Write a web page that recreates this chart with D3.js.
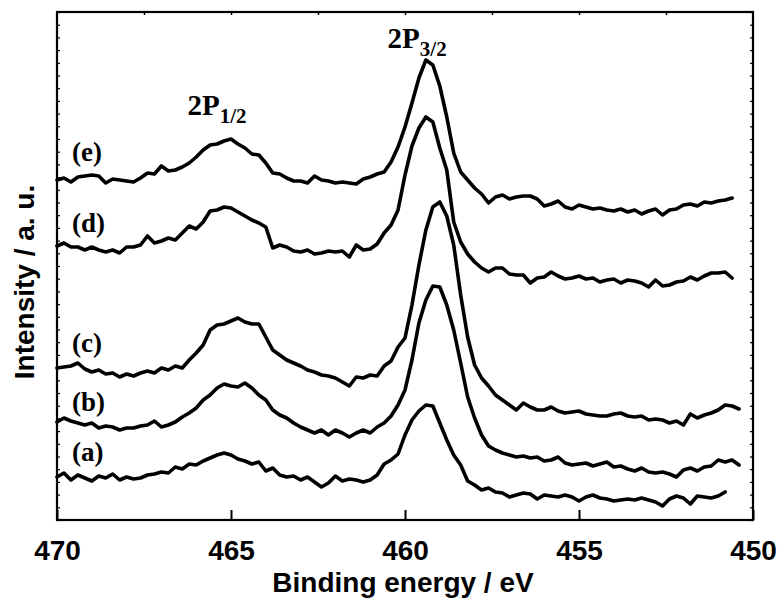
<!DOCTYPE html>
<html>
<head>
<meta charset="utf-8">
<script src="https://cdn.jsdelivr.net/npm/d3@7"></script>
<style>
  html, body { margin: 0; padding: 0; background: #fff; }
  svg { display: block; }
</style>
</head>
<body>
<svg id="chart" width="781" height="600"></svg>
<script>
// ---- Data (binding energy grid: 470 eV downward in 0.2 eV steps) ----
const energyStart = 470;
const energyStep = 0.2;

// Intensity (a.u., curves already vertically offset as in the figure)
const curveE = [340,342,338,343,344,345,344,337,341,340,
  339,338,342,347,346,354,349,350,353,357,
  363,370,375,376,379,381,376,372,366,365,
  357,347,346,342,339,339,337,344,340,339,
  337,338,337,336,341,343,346,348,358,373,
  393,417,442,460,455,434,403,367,348,340,
  332,326,317,323,325,321,323,324,324,321,
  314,316,319,313,311,315,313,311,312,310,
  309,311,308,310,306,309,311,305,310,311,
  315,316,314,318,317,319,320,322];
const curveD = [274,277,273,273,270,273,270,268,270,267,
  273,273,275,284,277,279,282,280,287,294,
  291,298,309,310,313,312,308,304,300,297,
  293,272,275,273,269,268,270,266,267,269,
  268,269,263,275,270,271,276,287,295,310,
  345,374,392,403,398,372,350,298,278,266,
  258,252,248,252,252,246,245,245,237,242,
  243,248,244,241,242,244,241,242,238,240,
  241,237,240,239,237,233,240,234,235,238,
  239,243,240,244,247,247,248,242];
const curveC = [152,153,154,157,151,148,150,146,147,143,
  146,144,147,149,147,152,150,154,152,160,
  167,175,190,195,196,199,202,198,196,196,
  183,170,165,160,157,154,150,148,145,144,
  142,138,134,143,142,145,144,154,159,173,
  182,215,255,290,313,318,304,275,225,183,
  155,142,134,125,120,115,110,117,113,110,
  110,113,109,107,108,109,106,105,104,104,
  106,107,104,103,104,100,101,100,97,99,
  95,106,102,105,107,110,115,114,111];
const curveB = [98,102,99,97,95,97,92,94,93,90,
  92,92,94,95,99,93,95,98,103,107,
  112,120,125,132,136,134,133,137,132,125,
  120,110,105,102,97,93,90,87,90,85,
  90,87,83,87,90,87,93,97,104,115,
  130,160,197,220,234,233,215,190,157,123,
  102,85,74,70,67,65,63,64,62,63,
  59,60,63,57,55,56,57,54,56,58,
  53,54,51,49,52,48,47,48,46,43,
  50,52,49,53,54,60,58,60,55];
const curveA = [43,47,40,45,42,39,44,42,46,40,
  43,41,42,45,46,48,47,53,51,56,
  55,59,62,65,67,65,61,59,56,58,
  49,52,45,43,44,40,43,38,33,37,
  44,39,41,40,38,40,45,56,60,66,
  85,100,109,115,114,97,80,65,55,39,
  35,30,32,28,27,23,25,27,26,21,
  25,24,23,25,23,19,23,25,22,21,
  19,20,21,20,22,20,18,14,21,24,
  22,16,24,23,22,24,28];

const seriesNames = ["(e)", "(d)", "(c)", "(b)", "(a)"];
const seriesValues = [curveE, curveD, curveC, curveB, curveA];
const labelIntensity = [359, 288, 168, 109, 59];   // where each (x) label sits
const labelEnergy = 469.57;

const xTickValues = [470, 465, 460, 455, 450];
const xMinorTop = [467.5, 465, 462.5, 460, 457.5, 455, 452.5];

const peakLabels = [
  { main: "2P", sub: "1/2", energy: 466.25, intensity: 405 },
  { main: "2P", sub: "3/2", energy: 460.5, intensity: 472 }
];

// ---- Layout ----
const svg = d3.select("#chart");
const L = 57, R = 753, T = 12, B = 520;
const x = d3.scaleLinear().domain([470, 450]).range([L, R]);
const y = d3.scaleLinear().domain([0, 508]).range([B, T]);

const sans = "'Liberation Sans', Arial, Helvetica, sans-serif";
const serif = "'Liberation Serif', 'Times New Roman', Times, serif";

// Curves
const line = d3.line()
  .x((d, i) => x(energyStart - energyStep * i))
  .y(d => y(d));

svg.append("g").selectAll("path")
  .data(seriesValues)
  .join("path")
  .attr("d", d => line(d))
  .attr("fill", "none")
  .attr("stroke", "#000")
  .attr("stroke-width", 3.6)
  .attr("stroke-linejoin", "round")
  .attr("stroke-linecap", "round");

// Bottom axis (major ticks inward)
const xAxisBottom = d3.axisBottom(x)
  .tickValues(xTickValues)
  .tickSize(-10)
  .tickPadding(20)
  .tickFormat(d3.format("d"));
const gxb = svg.append("g").attr("transform", `translate(0,${B})`).call(xAxisBottom);
gxb.select(".domain").remove();
gxb.selectAll("line").attr("stroke", "#000").attr("stroke-width", 2);
gxb.selectAll("text")
  .attr("font-family", sans).attr("font-weight", "bold").attr("font-size", 28)
  .attr("fill", "#000");

// Top axis (small ticks)
const xAxisTop = d3.axisTop(x).tickValues(xMinorTop).tickSize(-3).tickFormat("");
const gxt = svg.append("g").attr("transform", `translate(0,${T})`).call(xAxisTop);
gxt.select(".domain").remove();
gxt.selectAll("line").attr("stroke", "#000").attr("stroke-width", 1.5);

// Left / right small ticks
const yTicks = d3.range(0, 41).map(k => k * 12.7);
const yAxisL = d3.axisLeft(y).tickValues(yTicks).tickSize(-3).tickFormat("");
const gyl = svg.append("g").attr("transform", `translate(${L},0)`).call(yAxisL);
gyl.select(".domain").remove();
gyl.selectAll("line").attr("stroke", "#000").attr("stroke-width", 1.2);
const yAxisR = d3.axisRight(y).tickValues(yTicks).tickSize(-3).tickFormat("");
const gyr = svg.append("g").attr("transform", `translate(${R},0)`).call(yAxisR);
gyr.select(".domain").remove();
gyr.selectAll("line").attr("stroke", "#000").attr("stroke-width", 1.2);

// Frame
svg.append("rect")
  .attr("x", L).attr("y", T).attr("width", R - L).attr("height", B - T)
  .attr("fill", "none").attr("stroke", "#000").attr("stroke-width", 2.2);

// Axis titles
svg.append("text")
  .attr("x", (L + R) / 2 - 2).attr("y", 592)
  .attr("text-anchor", "middle")
  .attr("font-family", sans).attr("font-weight", "bold").attr("font-size", 28)
  .text("Binding energy / eV");

svg.append("text")
  .attr("transform", "translate(34,282) rotate(-90)")
  .attr("text-anchor", "middle")
  .attr("font-family", sans).attr("font-weight", "bold").attr("font-size", 28)
  .text("Intensity / a. u.");

// Curve labels
svg.append("g").selectAll("text")
  .data(seriesNames)
  .join("text")
  .attr("x", x(labelEnergy))
  .attr("y", (d, i) => y(labelIntensity[i]))
  .attr("font-family", serif).attr("font-weight", "bold").attr("font-size", 27)
  .text(d => d);

// Peak labels
const pl = svg.append("g").selectAll("text")
  .data(peakLabels)
  .join("text")
  .attr("x", d => x(d.energy))
  .attr("y", d => y(d.intensity))
  .attr("font-family", serif).attr("font-weight", "bold").attr("font-size", 29);
pl.append("tspan").text(d => d.main);
pl.append("tspan").attr("dy", 8).attr("font-size", 21).text(d => d.sub);
</script>
</body>
</html>
